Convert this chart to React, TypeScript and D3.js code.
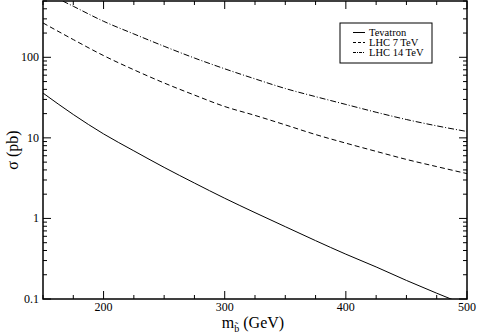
import React from 'react';
import * as d3 from 'd3';

const width = 478;
const height = 336;

// sbottom mass (GeV)
const masses = [150, 175, 200, 225, 250, 275, 300, 325, 350, 375, 400, 425, 450, 475, 500];
// cross sections (pb)
const tevatron = [36, 19.5, 11.2, 6.9, 4.3, 2.75, 1.78, 1.18, 0.79, 0.53, 0.36, 0.25, 0.17, 0.118, 0.083];
const lhc7 = [267, 166, 105, 70, 48, 34, 24.5, 19, 14.5, 11.0, 8.6, 6.8, 5.4, 4.4, 3.6];
const lhc14 = [660, 430, 280, 195, 137, 98, 72, 54, 41, 32.5, 26, 20.8, 16.9, 14.1, 12];

const seriesNames = ['Tevatron', 'LHC 7 TeV', 'LHC 14 TeV'];
const dashes = [undefined, '5,3', '6,2,1,2'];
const legendDashes = [undefined, '3,2', '3,1,1,1'];

const xMajor = [200, 300, 400, 500];
const yMajor = [0.1, 1, 10, 100];

const margin = { left: 43, right: 11, top: 1, bottom: 37 };

export default function App() {
    const x = d3.scaleLinear()
        .domain([150, 500])
        .range([margin.left, width - margin.right]);
    const y = d3.scaleLog()
        .domain([0.1, 500])
        .range([height - margin.bottom, margin.top]);

    const line = d3.line<[number, number]>()
        .x(d => x(d[0]))
        .y(d => y(d[1]))
        .curve(d3.curveMonotoneX);

    const all = [tevatron, lhc7, lhc14];

    const x0 = x.range()[0], x1 = x.range()[1];
    const y0 = y.range()[0], y1 = y.range()[1];

    const xMinor = d3.range(150, 501, 25).filter(v => !xMajor.includes(v));
    const yMinor: number[] = [];
    [0.1, 1, 10, 100].forEach(dec => {
        for (let k = 2; k <= 9; k++) {
            const v = dec * k;
            if (v <= 500) yMinor.push(v);
        }
    });

    const font = "'Liberation Serif', serif";

    return (
        <svg width={width} height={height}
            style={{ position: 'absolute', left: 0, top: 0, fontFamily: font }}>
            <defs>
                <clipPath id="plotclip">
                    <rect x={x0} y={y1} width={x1 - x0} height={y0 - y1} />
                </clipPath>
            </defs>
            <rect width={width} height={height} fill="#fff" />

            <g clipPath="url(#plotclip)">
                {all.map((vals, i) => (
                    <path key={i}
                        d={line(masses.map((m, j) => [m, vals[j]] as [number, number])) || ''}
                        fill="none" stroke="#000" strokeWidth={1}
                        strokeDasharray={dashes[i]} />
                ))}
            </g>

            {/* ticks on all four sides, pointing in */}
            <g stroke="#000" strokeWidth={1}>
                {xMajor.map(v => (
                    <g key={'xM' + v}>
                        <line x1={x(v)} x2={x(v)} y1={y0} y2={y0 - 8} />
                        <line x1={x(v)} x2={x(v)} y1={y1} y2={y1 + 8} />
                    </g>
                ))}
                {xMinor.map(v => (
                    <g key={'xm' + v}>
                        <line x1={x(v)} x2={x(v)} y1={y0} y2={y0 - 4} />
                        <line x1={x(v)} x2={x(v)} y1={y1} y2={y1 + 4} />
                    </g>
                ))}
                {yMajor.map(v => (
                    <g key={'yM' + v}>
                        <line x1={x0} x2={x0 + 8} y1={y(v)} y2={y(v)} />
                        <line x1={x1} x2={x1 - 8} y1={y(v)} y2={y(v)} />
                    </g>
                ))}
                {yMinor.map(v => (
                    <g key={'ym' + v}>
                        <line x1={x0} x2={x0 + 4} y1={y(v)} y2={y(v)} />
                        <line x1={x1} x2={x1 - 4} y1={y(v)} y2={y(v)} />
                    </g>
                ))}
            </g>

            <rect x={x0} y={y1} width={x1 - x0} height={y0 - y1}
                fill="none" stroke="#000" strokeWidth={1.5} />

            {/* tick labels */}
            <g fontSize={12} fill="#000" fontFamily={font}>
                {xMajor.map(v => (
                    <text key={'xl' + v} x={x(v)} y={y0 + 12} textAnchor="middle">{v}</text>
                ))}
                {yMajor.map(v => (
                    <text key={'yl' + v} x={x0 - 4} y={y(v) + 4} textAnchor="end">{v}</text>
                ))}
            </g>

            {/* axis titles */}
            <text x={(x0 + x1) / 2 - 2} y={y0 + 29} textAnchor="middle" fontSize={16} fontFamily={font}>
                m<tspan fontSize={10} dy={4}>{'b\u0303'}</tspan><tspan dy={-4}> (GeV)</tspan>
            </text>
            <text transform={`translate(18,${(y0 + y1) / 2}) rotate(-90)`} textAnchor="middle"
                fontSize={16} fontFamily={font}>
                σ (pb)
            </text>

            {/* legend */}
            <g fontFamily={font}>
                <rect x={340} y={23} width={92} height={40} fill="#fff" stroke="#000" strokeWidth={1} />
                {seriesNames.map((name, i) => (
                    <g key={name}>
                        <line x1={353} x2={365} y1={32.5 + i * 10} y2={32.5 + i * 10}
                            stroke="#000" strokeWidth={1} strokeDasharray={legendDashes[i]} />
                        <text x={369} y={36 + i * 10} fontSize={10.5}>{name}</text>
                    </g>
                ))}
            </g>
        </svg>
    );
}
